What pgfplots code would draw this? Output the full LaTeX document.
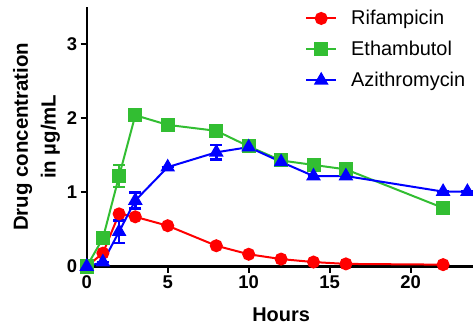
\documentclass[border=0pt]{standalone}
\usepackage{pgfplots}
\pgfplotsset{compat=1.18}
\usepackage{fontspec}
\setmainfont{Liberation Sans}
\definecolor{cR}{RGB}{255,0,0}
\definecolor{cG}{RGB}{50,190,50}
\definecolor{cB}{RGB}{0,0,255}
\begin{document}
\begin{tikzpicture}
\path[use as bounding box] (0,0) rectangle (473bp,331bp);
\begin{axis}[
  at={(86.7bp,64.5bp)}, anchor=south west,
  scale only axis, width=388.8bp, height=259.5bp,
  xmin=0, xmax=24, ymin=0, ymax=3.5,
  clip=false,
  axis lines*=left,
  axis line style={line width=2bp, black},
  xtick={0,5,10,15,20}, ytick={0,1,2,3},
  tick align=outside, major tick length=6bp,
  tick style={line width=2bp, black},
  /pgf/number format/assume math mode=true,
  ticklabel style={font=\bfseries\fontsize{18.5}{18.5}\selectfont},
  xlabel={Hours},
  ylabel={Drug concentration\\in µg/mL},
  xlabel style={font=\bfseries\fontsize{20}{24}\selectfont, at={(axis description cs:0.5,-0.2127)}, anchor=base},
  ylabel style={font=\bfseries\fontsize{20.5}{28}\selectfont, align=center, at={(axis description cs:-0.129,0.5)}, anchor=center},
  legend style={draw=none, fill=none, font=\fontsize{20}{20}\selectfont,
    at={(axis description cs:0.5615,0.995)}, anchor=north west,
    row sep=11bp, inner sep=0pt, cells={anchor=west}},
  legend image code/.code={
    \draw[mark repeat=2,mark phase=2] plot coordinates {(0bp,0bp) (15bp,0bp) (30bp,0bp)};
    \path (42bp,0bp);},
  every axis plot/.append style={line width=2bp},
]
\addplot[color=cR, mark=*, mark size=5.5bp, mark options={solid}] table[x=x,y=y] {
x y
0 0
1 0.18
2 0.71
3 0.67
5 0.55
8 0.28
10 0.165
12 0.10
14 0.06
16 0.035
22 0.025
};
\addlegendentry{Rifampicin}
\addplot[color=cG, mark=square*, mark size=6bp,
  error bars/.cd, y dir=both, y explicit,
  error bar style={line width=2.5bp},
  error mark options={line width=2.5bp, mark size=6bp, rotate=90}] table[x=x,y=y,y error=e] {
x y e
0 0 0
1 0.38 0.05
2 1.22 0.15
3 2.04 0
5 1.91 0
8 1.83 0
10 1.62 0
12 1.43 0
14 1.37 0
16 1.31 0.06
22 0.79 0
};
\addlegendentry{Ethambutol}
\addplot[color=cB, mark=triangle*, mark size=6.5bp,
  error bars/.cd, y dir=both, y explicit,
  error bar style={line width=2.5bp},
  error mark options={line width=2.5bp, mark size=6bp, rotate=90}] table[x=x,y=y,y error=e] {
x y e
0 0 0
1 0.06 0
2 0.47 0.15
3 0.89 0.11
5 1.34 0
8 1.54 0.10
10 1.61 0
12 1.41 0
14 1.22 0
16 1.22 0
22 1.01 0
23.5 1.01 0
};
\addlegendentry{Azithromycin}
\end{axis}
\end{tikzpicture}
\end{document}
